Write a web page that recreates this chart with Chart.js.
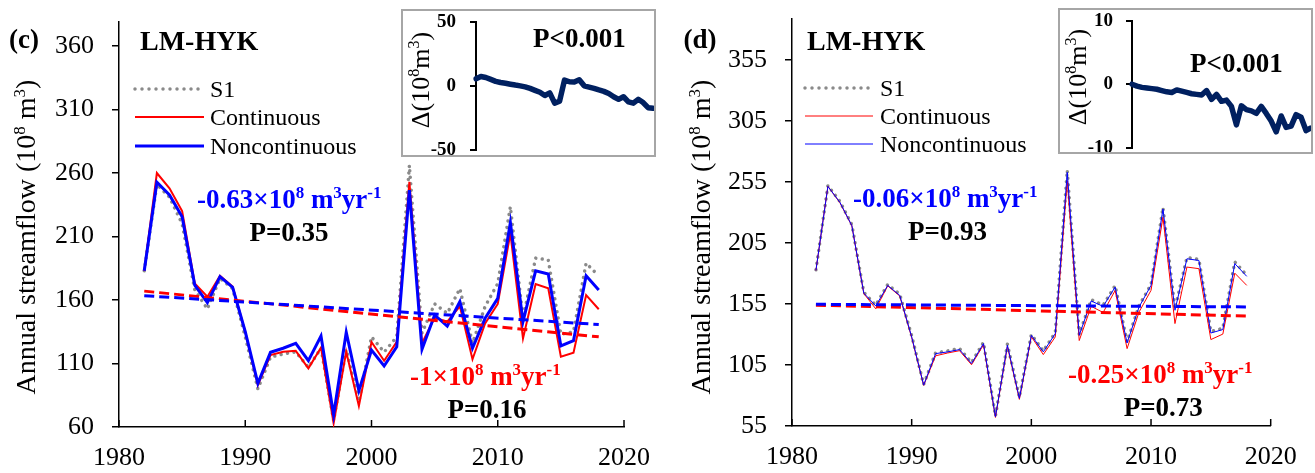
<!DOCTYPE html>
<html>
<head>
<meta charset="utf-8">
<script src="https://cdn.jsdelivr.net/npm/chart.js@4"></script>
<style>
  html, body { margin: 0; padding: 0; background: #fff; }
  body { width: 1315px; height: 473px; position: relative; overflow: hidden; }
  canvas { position: absolute; }
  .inset { position: absolute; box-sizing: border-box; border: 2px solid #a6a6a6; background: #fff; }
  .inset canvas { left: 0; top: 0; }
</style>
</head>
<body>
<canvas id="mainC" width="660" height="473" style="left:0;top:0"></canvas>
<canvas id="mainD" width="655" height="473" style="left:660px;top:0"></canvas>
<div class="inset" style="left:401px;top:9px;width:255px;height:148px"><canvas id="insetC" width="251" height="144"></canvas></div>
<div class="inset" style="left:1058px;top:8px;width:255px;height:146px"><canvas id="insetD" width="251" height="142"></canvas></div>
<script>
const years = [1982, 1983, 1984, 1985, 1986, 1987, 1988, 1989, 1990, 1991, 1992, 1993, 1994,
  1995, 1996, 1997, 1998, 1999, 2000, 2001, 2002, 2003, 2004, 2005, 2006, 2007, 2008,
  2009, 2010, 2011, 2012, 2013, 2014, 2015, 2016, 2017, 2018];

// (c) annual streamflow at LM-HYK, 10^8 m3
const s1C = [183, 251, 241, 220, 168, 153, 177, 169, 131, 90, 115, 117.5, 119, 107, 122, 65,
  121, 80, 131, 119, 131, 266, 134, 157, 149.5, 169, 126, 155, 173, 233.5, 145.6, 193, 191.5,
  133, 135, 189, 179];
const contC = [183, 260, 248, 230, 173, 162.6, 179, 170.5, 135, 93, 116.7, 119.3, 120, 106.2,
  122.5, 62.9, 119.3, 76.5, 126.9, 112.2, 127, 253, 126, 146, 143, 155, 113.3, 141.6, 156.9,
  212.5, 129.8, 172.6, 169.2, 115.4, 118.5, 163.9, 152.7];
const noncontC = [183, 252.7, 242.7, 225.6, 171.8, 157.9, 178.4, 170, 135, 94.4, 118.8, 122,
  125.9, 112.2, 131.6, 69.4, 134.6, 88.6, 120.6, 108, 123.2, 246.6, 121.2, 148.2, 139.5, 158.7,
  122, 145.6, 161.3, 220.9, 142.9, 183, 180.5, 123.8, 128, 179.1, 167.9];

// (d) annual streamflow at LM-HYK, 10^8 m3
const s1D = [183, 252, 239, 220, 164.5, 154, 171, 163, 129, 89, 115, 116.5, 118.5, 107, 123.5,
  63, 122, 78.5, 130, 116.5, 131.5, 264.5, 130, 158.5, 154, 170, 124, 153.5, 171, 234, 151, 193,
  191.5, 132.5, 135, 189.5, 178.5];
const contD = [182.5, 251.3, 238, 219, 163.5, 151, 169.8, 161.5, 127.5, 88.3, 112.5, 114.8,
  116.7, 105.2, 121.5, 62, 120.2, 76.8, 128.2, 113.5, 128, 256, 125, 153, 148, 166, 118.4, 148.4,
  166.1, 226, 138.9, 185.2, 183.9, 125.8, 130.3, 180.2, 170.2];
const noncontD = [182.5, 251.3, 238.3, 219.2, 163.9, 153.3, 170.2, 162, 128, 88.5, 114.3, 115.7,
  117.6, 106.2, 122.5, 62.6, 121.2, 77.6, 129.3, 115.7, 130.7, 262.8, 129.3, 157.4, 153, 168.8,
  123, 152.5, 170.2, 232.8, 149.8, 192, 190.6, 131.2, 134, 188, 177.6];

// linear trends: [continuous, noncontinuous]; value in the first year and slope (10^8 m3/yr)
const trendStartC = [167, 163.4];
const slopeC = [-1, -0.63];
const pValueC = ['0.16', '0.35'];
const trendStartD = [154, 154.7];
const slopeD = [-0.25, -0.06];
const pValueD = ['0.73', '0.93'];

// insets: difference series, 10^8 m3
const deltaC = [5.5, 7.3, 6.5, 5, 3.5, 2.6, 2, 1.3, 0.6, 0, -0.8, -2, -3.5, -5, -7.5, -5.5,
  -13.5, -12, 4.5, 3.2, 3, 4.7, 0, -1, -2, -3.2, -4.3, -6, -8.5, -10.5, -8.5, -12.5, -13.5,
  -10.5, -13, -17, -17.5];
const deltaD = [0, -0.3, -0.5, -0.6, -0.7, -0.8, -1.0, -1.2, -1.3, -0.9, -1.1, -1.3, -1.5, -1.6,
  -1.7, -1.0, -2.4, -1.6, -2.7, -2.5, -3.5, -6.4, -3.4, -4.0, -4.2, -4.6, -3.5, -4.6, -5.8, -7.5,
  -5.0, -6.8, -6.6, -4.8, -5.2, -7.3, -6.9];

const xTicks = [1980, 1990, 2000, 2010, 2020];
const yTicksC = [60, 110, 160, 210, 260, 310, 360];
const yTicksD = [55, 105, 155, 205, 255, 305, 355];
const insetTicksC = [-50, 0, 50];
const insetTicksD = [-10, 0, 10];

const RED = '#ff0000', BLUE = '#0000ff', GRAY = '#8a8a8a', NAVY = '#002060';
const SERIF = '"Liberation Serif", "Times New Roman", serif';
Chart.defaults.font.family = SERIF;
Chart.defaults.color = '#000';

const pts = vals => vals.map((v, i) => ({ x: years[i], y: v }));
const trendPts = (start, slope) => {
  const last = years[years.length - 1];
  return [{ x: years[0], y: start }, { x: last, y: start + slope * (last - years[0]) }];
};

// fixes the plot rectangle so the axes sit where they should, whatever the label sizes
const pinArea = area => ({
  id: 'pinArea',
  afterLayout(chart) {
    const { x, y } = chart.scales;
    Object.assign(chart.chartArea, area, { width: area.right - area.left, height: area.bottom - area.top });
    x.left = area.left; x.right = area.right; x.width = area.right - area.left;
    x.top = area.bottom; x.bottom = area.bottom + (x.height || 0);
    y.top = area.top; y.bottom = area.bottom; y.height = area.bottom - area.top;
    y.right = area.left; y.left = area.left - y.width;
    x.configure();
    y.configure();
  }
});

// text with superscript pieces: parts = [[text, isSup], ...]
function drawParts(ctx, parts, x, y, size, color, align, weight) {
  const supSize = Math.round(size * 0.62);
  const font = s => `${weight} ${s}px ${SERIF}`;
  ctx.save();
  ctx.fillStyle = color;
  ctx.textAlign = 'left';
  ctx.textBaseline = 'alphabetic';
  let w = 0;
  for (const [t, sup] of parts) { ctx.font = font(sup ? supSize : size); w += ctx.measureText(t).width; }
  let cx = align === 'center' ? x - w / 2 : x;
  for (const [t, sup] of parts) {
    ctx.font = font(sup ? supSize : size);
    ctx.fillText(t, cx, sup ? y - size * 0.36 : y);
    cx += ctx.measureText(t).width;
  }
  ctx.restore();
}

function drawVertical(ctx, parts, cx, cy, size) {
  ctx.save();
  ctx.translate(cx + size * 0.3, cy);
  ctx.rotate(-Math.PI / 2);
  drawParts(ctx, parts, 0, 0, size, '#000', 'center', 'normal');
  ctx.restore();
}

const slopeParts = s => [[`${s}×10`, false], ['8', true], [' m', false], ['3', true], ['yr', false], ['-1', true]];
const unitTitle = [['Annual streamflow (10', false], ['8', true], [' m', false], ['3', true], [')', false]];

function legendLine(ctx, x0, x1, y, color, width, dotted) {
  ctx.save();
  ctx.strokeStyle = color;
  ctx.lineWidth = width;
  if (dotted) { ctx.setLineDash([0.001, 7]); ctx.lineCap = 'round'; }
  ctx.beginPath();
  ctx.moveTo(x0, y);
  ctx.lineTo(x1, y);
  ctx.stroke();
  ctx.restore();
}

function mainChart(id, c) {
  return new Chart(document.getElementById(id), {
    type: 'line',
    data: {
      datasets: [
        { data: trendPts(c.trendStart[1], c.slope[1]), borderColor: BLUE, borderWidth: 3, borderDash: [10, 5], order: 0 },
        { data: trendPts(c.trendStart[0], c.slope[0]), borderColor: RED, borderWidth: 3, borderDash: [10, 5], order: 1 },
        { data: pts(c.noncont), borderColor: BLUE, borderWidth: c.wBlue, order: 2 },
        { data: pts(c.cont), borderColor: RED, borderWidth: c.wRed, order: 3 },
        { data: pts(c.s1), borderColor: GRAY, borderWidth: 3.5, borderDash: [0.001, 6.5],
          borderCapStyle: 'round', borderJoinStyle: 'round', order: 4 }
      ]
    },
    options: {
      responsive: false,
      animation: false,
      elements: { point: { radius: 0 }, line: { tension: 0, fill: false } },
      plugins: { legend: { display: false }, tooltip: { enabled: false } },
      scales: {
        x: {
          type: 'linear', min: 1980, max: 2020,
          afterBuildTicks: s => { s.ticks = xTicks.map(v => ({ value: v })); },
          grid: { display: false, drawTicks: false },
          border: { color: '#000', width: 1.5 },
          ticks: { padding: 16, font: { size: 26 }, maxRotation: 0, autoSkip: false, callback: v => String(v) }
        },
        y: {
          min: c.yTicks[0], max: c.yMax,
          afterBuildTicks: s => { s.ticks = c.yTicks.map(v => ({ value: v })); },
          grid: { drawOnChartArea: false, drawTicks: true, tickLength: 7, color: '#000', lineWidth: 1.5 },
          border: { color: '#000', width: 1.5 },
          ticks: { padding: 18, font: { size: 26 }, autoSkip: false }
        }
      }
    },
    plugins: [pinArea(c.area), {
      id: 'panelText',
      afterDraw(chart) {
        const ctx = chart.ctx, xs = chart.scales.x, area = chart.chartArea;
        // x ticks point into the plot
        ctx.save();
        ctx.strokeStyle = '#000';
        ctx.lineWidth = 1.5;
        for (const t of xTicks) {
          const px = xs.getPixelForValue(t);
          ctx.beginPath();
          ctx.moveTo(px, area.bottom);
          ctx.lineTo(px, area.bottom - 7);
          ctx.stroke();
        }
        ctx.restore();

        const t = c.text;
        drawVertical(ctx, unitTitle, t.titleX, 237, 28);
        drawParts(ctx, [[c.tag, false]], t.tagX, 48, 27, '#000', 'center', 'bold');
        drawParts(ctx, [['LM-HYK', false]], t.siteX, 50, 28, '#000', 'left', 'bold');

        const [lx0, lx1, tx] = t.legend;
        legendLine(ctx, lx0, lx1, t.legendY[0], GRAY, 3.5, true);
        legendLine(ctx, lx0, lx1, t.legendY[1], RED, c.wRed, false);
        legendLine(ctx, lx0, lx1, t.legendY[2], BLUE, c.wBlue, false);
        ['S1', 'Continuous', 'Noncontinuous'].forEach((s, i) =>
          drawParts(ctx, [[s, false]], tx, t.legendY[i] + 8, 24, '#000', 'left', 'normal'));

        drawParts(ctx, slopeParts(c.slope[1]), t.blueSlope[0], t.blueSlope[1], 27, BLUE, 'left', 'bold');
        drawParts(ctx, [['P=' + c.pValue[1], false]], t.blueP[0], t.blueP[1], 27, '#000', 'center', 'bold');
        drawParts(ctx, slopeParts(c.slope[0]), t.redSlope[0], t.redSlope[1], 27, RED, 'left', 'bold');
        drawParts(ctx, [['P=' + c.pValue[0], false]], t.redP[0], t.redP[1], 27, '#000', 'center', 'bold');
      }
    }]
  });
}

function insetChart(id, vals, ticks, c) {
  return new Chart(document.getElementById(id), {
    type: 'line',
    data: {
      labels: years,
      datasets: [{ data: vals, borderColor: NAVY, borderWidth: 5.5, borderJoinStyle: 'round',
        borderCapStyle: 'round', pointRadius: 0, tension: 0 }]
    },
    options: {
      responsive: false,
      animation: false,
      plugins: { legend: { display: false }, tooltip: { enabled: false } },
      scales: {
        x: { display: false, offset: false },
        y: {
          min: ticks[0], max: ticks[ticks.length - 1],
          afterBuildTicks: s => { s.ticks = ticks.map(v => ({ value: v })); },
          grid: { drawOnChartArea: false, drawTicks: true, tickLength: 6, color: '#000', lineWidth: 2 },
          border: { color: '#000', width: 2 },
          ticks: { padding: c.tickPad, font: { size: 19, weight: 'bold' }, autoSkip: false }
        }
      }
    },
    plugins: [pinArea(c.area), {
      id: 'insetText',
      afterDraw(chart) {
        const ctx = chart.ctx;
        drawVertical(ctx, [['Δ(10', false], ['8', true], ['m', false], ['3', true], [')', false]], 18, c.titleY, 26);
        drawParts(ctx, [['P<0.001', false]], 130, c.pY, 27, '#000', 'left', 'bold');
      }
    }]
  });
}

mainChart('mainC', {
  s1: s1C, cont: contC, noncont: noncontC,
  trendStart: trendStartC, slope: slopeC, pValue: pValueC,
  yTicks: yTicksC, yMax: 379, wRed: 2, wBlue: 3,
  area: { left: 119, right: 624, top: 21.9, bottom: 427 }, tag: '(c)',
  text: {
    titleX: 27, tagX: 24, siteX: 140,
    legend: [135, 204, 210], legendY: [89, 117, 146],
    blueSlope: [197, 208], blueP: [289, 241],
    redSlope: [410, 385], redP: [487, 418]
  }
});

mainChart('mainD', {
  s1: s1D, cont: contD, noncont: noncontD,
  trendStart: trendStartD, slope: slopeD, pValue: pValueD,
  yTicks: yTicksD, yMax: 389, wRed: 1, wBlue: 1,
  area: { left: 132, right: 610.7, top: 18.3, bottom: 426 }, tag: '(d)',
  text: {
    titleX: 42, tagX: 40, siteX: 147,
    legend: [145, 213, 220], legendY: [88, 116, 144],
    blueSlope: [193, 207], blueP: [287.5, 240],
    redSlope: [408, 383], redP: [503.3, 416]
  }
});

insetChart('insetC', deltaC, insetTicksC, {
  area: { left: 73, right: 250, top: 10.7, bottom: 139 }, tickPad: 14, titleY: 69, pY: 36
});
insetChart('insetD', deltaD, insetTicksD, {
  area: { left: 72, right: 251, top: 10.7, bottom: 137.7 }, tickPad: 13, titleY: 67, pY: 62
});
</script>
</body>
</html>
